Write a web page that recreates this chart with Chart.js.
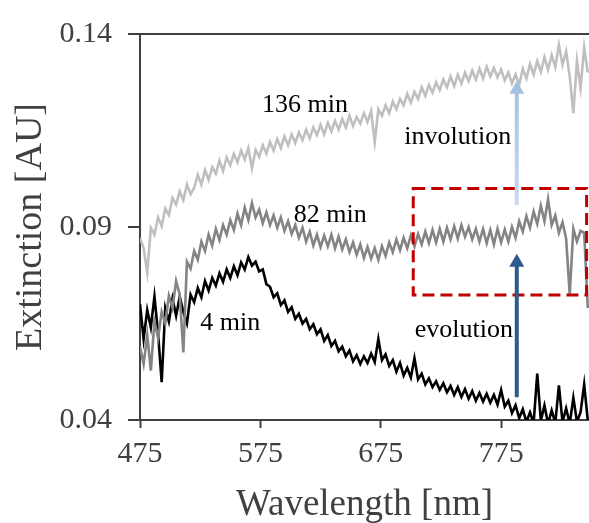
<!DOCTYPE html>
<html>
<head>
<meta charset="utf-8">
<script src="https://cdn.jsdelivr.net/npm/chart.js@4.4.0/dist/chart.umd.min.js"></script>
<style>
  html, body { margin: 0; padding: 0; background: #fff; }
  #wrap { width: 589px; height: 523px; }
</style>
</head>
<body>
<div id="wrap"><canvas id="specChart" width="589" height="523"></canvas></div>
<script>
// ------------------ Data ------------------
const wavelengths = [
  475,478,481,484,487,490,493,496,499,502,505,508,511,514,517,520,523,526,529,532,
  535,538,541,544,547,550,553,556,559,562,565,568,571,574,577,580,583,586,589,592,
  595,598,601,604,607,610,613,616,619,622,625,628,631,634,637,640,643,646,649,652,
  655,658,661,664,667,670,673,676,679,682,685,688,691,694,697,700,703,706,709,712,
  715,718,721,724,727,730,733,736,739,742,745,748,751,754,757,760,763,766,769,772,
  775,778,781,784,787,790,793,796,799,802,805,808,811,814,817,820,823,826,829,832,
  835,838,841,844,847
];

// 136 min (light grey)
const ext136 = [
  0.0872,0.0845,0.0782,0.0898,0.0880,0.0925,0.0902,0.0948,0.0931,0.0975,
  0.0958,0.0992,0.0970,0.1010,0.0985,0.1002,0.1035,0.1010,0.1048,0.1022,
  0.1055,0.1038,0.1072,0.1045,0.1080,0.1060,0.1090,0.1068,0.1098,0.1075,
  0.1105,0.1052,0.1100,0.1082,0.1112,0.1090,0.1120,0.1098,0.1128,0.1105,
  0.1135,0.1112,0.1140,0.1118,0.1145,0.1125,0.1152,0.1130,0.1158,0.1138,
  0.1165,0.1140,0.1170,0.1148,0.1175,0.1152,0.1180,0.1158,0.1188,0.1162,
  0.1185,0.1168,0.1195,0.1172,0.1200,0.1120,0.1205,0.1188,0.1215,0.1195,
  0.1225,0.1205,0.1232,0.1215,0.1245,0.1222,0.1250,0.1232,0.1262,0.1240,
  0.1268,0.1248,0.1275,0.1255,0.1282,0.1262,0.1290,0.1265,0.1295,0.1272,
  0.1300,0.1278,0.1305,0.1282,0.1310,0.1285,0.1315,0.1290,0.1312,0.1288,
  0.1308,0.1280,0.1300,0.1272,0.1295,0.1268,0.1310,0.1285,0.1322,0.1295,
  0.1330,0.1302,0.1340,0.1308,0.1345,0.1315,0.1372,0.1320,0.1355,0.1290,
  0.1195,0.1330,0.1260,0.1365,0.1300
];

// 82 min (mid grey)
const ext82 = [
  0.0590,0.0545,0.0620,0.0528,0.0655,0.0612,0.0680,0.0650,0.0722,0.0690,
  0.0760,0.0725,0.0575,0.0810,0.0792,0.0838,0.0815,0.0862,0.0838,0.0880,
  0.0852,0.0895,0.0866,0.0905,0.0880,0.0918,0.0892,0.0935,0.0905,0.0950,
  0.0918,0.0962,0.0925,0.0945,0.0910,0.0938,0.0905,0.0930,0.0898,0.0925,
  0.0890,0.0915,0.0882,0.0905,0.0872,0.0898,0.0862,0.0888,0.0852,0.0880,
  0.0848,0.0878,0.0850,0.0880,0.0845,0.0875,0.0842,0.0868,0.0835,0.0860,
  0.0828,0.0855,0.0820,0.0848,0.0818,0.0845,0.0815,0.0850,0.0825,0.0860,
  0.0835,0.0868,0.0840,0.0872,0.0845,0.0878,0.0850,0.0882,0.0855,0.0888,
  0.0858,0.0892,0.0860,0.0895,0.0862,0.0898,0.0868,0.0902,0.0870,0.0905,
  0.0875,0.0900,0.0868,0.0895,0.0862,0.0895,0.0858,0.0892,0.0855,0.0895,
  0.0860,0.0893,0.0862,0.0900,0.0872,0.0915,0.0888,0.0928,0.0898,0.0940,
  0.0908,0.0955,0.0915,0.0972,0.0905,0.0930,0.0885,0.0912,0.0870,0.0725,
  0.0895,0.0862,0.0890,0.0885,0.0690
];

// 4 min (black)
const ext4 = [
  0.0700,0.0610,0.0685,0.0640,0.0720,0.0625,0.0498,0.0690,0.0655,0.0715,
  0.0670,0.0720,0.0680,0.0650,0.0725,0.0705,0.0742,0.0718,0.0760,0.0735,
  0.0768,0.0748,0.0780,0.0758,0.0790,0.0768,0.0798,0.0775,0.0808,0.0790,
  0.0822,0.0800,0.0810,0.0785,0.0790,0.0752,0.0745,0.0718,0.0728,0.0698,
  0.0710,0.0680,0.0692,0.0662,0.0675,0.0650,0.0662,0.0635,0.0648,0.0622,
  0.0635,0.0605,0.0620,0.0592,0.0605,0.0578,0.0590,0.0565,0.0580,0.0552,
  0.0568,0.0545,0.0565,0.0548,0.0572,0.0550,0.0610,0.0555,0.0570,0.0540,
  0.0555,0.0525,0.0548,0.0515,0.0535,0.0510,0.0560,0.0505,0.0520,0.0492,
  0.0508,0.0485,0.0500,0.0478,0.0495,0.0472,0.0488,0.0465,0.0485,0.0460,
  0.0480,0.0455,0.0475,0.0450,0.0470,0.0448,0.0468,0.0445,0.0465,0.0440,
  0.0478,0.0435,0.0450,0.0418,0.0438,0.0405,0.0428,0.0395,0.0420,0.0392,
  0.0520,0.0398,0.0438,0.0390,0.0425,0.0392,0.0490,0.0395,0.0430,0.0390,
  0.0458,0.0395,0.0420,0.0492,0.0398
];

const xTicks = [475, 575, 675, 775];
const yTicks = [0.04, 0.09, 0.14];

// text labels inside the plot, in data units (wavelength, extinction at baseline)
const noteTexts = ['136 min', '82 min', '4 min', 'involution', 'evolution'];
const noteX = [612, 633, 550, 739, 744];
const noteY = [0.1198, 0.0912, 0.0633, 0.1114, 0.0616];

// dashed box and arrows, data units
const boxX = [702, 846];
const boxY = [0.0724, 0.1000];
const arrowX = 788;
const arrowUp = [0.0957, 0.1279];    // involution (light)
const arrowEvo = [0.0459, 0.0831];   // evolution (dark)

const serif = "'Liberation Serif', 'Times New Roman', serif";
const axisGrey = '#404040';

function toPoints(vals) {
    return vals.map((v, i) => ({ x: wavelengths[i], y: v }));
}

// arrow helper: vertical arrow from y0 (tail) to y1 (tip), pixel units
function drawArrow(ctx, px, y0, y1, color, shaftW, headW, headL) {
    ctx.fillStyle = color;
    ctx.fillRect(px - shaftW / 2, y1 + headL - 1, shaftW, y0 - (y1 + headL - 1));
    ctx.beginPath();
    ctx.moveTo(px, y1);
    ctx.lineTo(px - headW / 2, y1 + headL);
    ctx.lineTo(px + headW / 2, y1 + headL);
    ctx.closePath();
    ctx.fill();
}

// ------------------ Annotations ------------------
const notesPlugin = {
    id: 'notes',
    afterDatasetsDraw(chart) {
        const { ctx, scales: { x, y } } = chart;
        ctx.save();

        // red dashed box
        ctx.strokeStyle = '#C00000';
        ctx.lineWidth = 3;
        ctx.setLineDash([12, 6]);
        const bx0 = x.getPixelForValue(boxX[0]);
        const bx1 = x.getPixelForValue(boxX[1]);
        const by0 = y.getPixelForValue(boxY[1]);
        const by1 = y.getPixelForValue(boxY[0]);
        ctx.strokeRect(bx0, by0, bx1 - bx0, by1 - by0);
        ctx.setLineDash([]);

        // arrows
        const ax = x.getPixelForValue(arrowX);
        const g = ctx.createLinearGradient(0, y.getPixelForValue(arrowUp[0]), 0, y.getPixelForValue(arrowUp[1]));
        g.addColorStop(0, '#C9DAEE');
        g.addColorStop(1, '#A3C0E2');
        drawArrow(ctx, ax, y.getPixelForValue(arrowUp[0]), y.getPixelForValue(arrowUp[1]), g, 4, 15, 13);
        drawArrow(ctx, ax, y.getPixelForValue(arrowEvo[0]), y.getPixelForValue(arrowEvo[1]), '#2E5A8E', 4, 15, 13);

        // texts
        ctx.font = '26px ' + serif;
        ctx.fillStyle = '#000';
        ctx.textAlign = 'center';
        ctx.textBaseline = 'alphabetic';
        noteTexts.forEach((t, i) => {
            ctx.fillText(t, x.getPixelForValue(noteX[i]), y.getPixelForValue(noteY[i]));
        });

        ctx.restore();
    }
};

// ------------------ Chart ------------------
const ctx = document.getElementById('specChart').getContext('2d');

new Chart(ctx, {
    type: 'line',
    data: {
        datasets: [
            { label: '136 min', data: toPoints(ext136), borderColor: '#BFBFBF', borderWidth: 2.6 },
            { label: '82 min', data: toPoints(ext82), borderColor: '#848484', borderWidth: 2.6 },
            { label: '4 min', data: toPoints(ext4), borderColor: '#000000', borderWidth: 2.6 }
        ]
    },
    options: {
        responsive: false,
        animation: false,
        events: [],
        layout: { padding: { top: 25, right: 0, left: 0, bottom: 0 } },
        elements: {
            point: { radius: 0 },
            line: { tension: 0, fill: false }
        },
        plugins: {
            legend: { display: false },
            tooltip: { enabled: false }
        },
        scales: {
            x: {
                type: 'linear',
                min: 475,
                max: 848,
                afterBuildTicks: s => { s.ticks = xTicks.map(v => ({ value: v })); },
                afterFit: s => { s.height = 103; },
                border: { display: true, color: axisGrey, width: 2 },
                grid: { drawOnChartArea: false, tickLength: 8, tickColor: axisGrey, tickWidth: 2 },
                ticks: {
                    color: axisGrey,
                    padding: 8,
                    maxRotation: 0,
                    font: { family: serif, size: 30 },
                    callback: v => String(v)
                },
                title: {
                    display: true,
                    text: 'Wavelength [nm]',
                    color: axisGrey,
                    font: { family: serif, size: 37 },
                    padding: { top: 0, bottom: -4 }
                }
            },
            y: {
                min: 0.04,
                max: 0.14,
                afterBuildTicks: s => { s.ticks = yTicks.map(v => ({ value: v })); },
                afterFit: s => { s.width = 140; },
                border: { display: true, color: axisGrey, width: 2 },
                grid: {
                    drawOnChartArea: true,
                    tickLength: 12,
                    tickColor: axisGrey,
                    tickWidth: 2,
                    lineWidth: 2,
                    color: c => (c.tick && c.tick.value === 0.14 ? axisGrey : 'rgba(0,0,0,0)')
                },
                ticks: {
                    color: axisGrey,
                    padding: 16,
                    font: { family: serif, size: 30 },
                    callback: v => v.toFixed(2)
                },
                title: {
                    display: true,
                    text: 'Extinction [AU]',
                    color: axisGrey,
                    font: { family: serif, size: 38 },
                    padding: { top: 8, bottom: 0 }
                }
            }
        }
    },
    plugins: [notesPlugin]
});
</script>
</body>
</html>
